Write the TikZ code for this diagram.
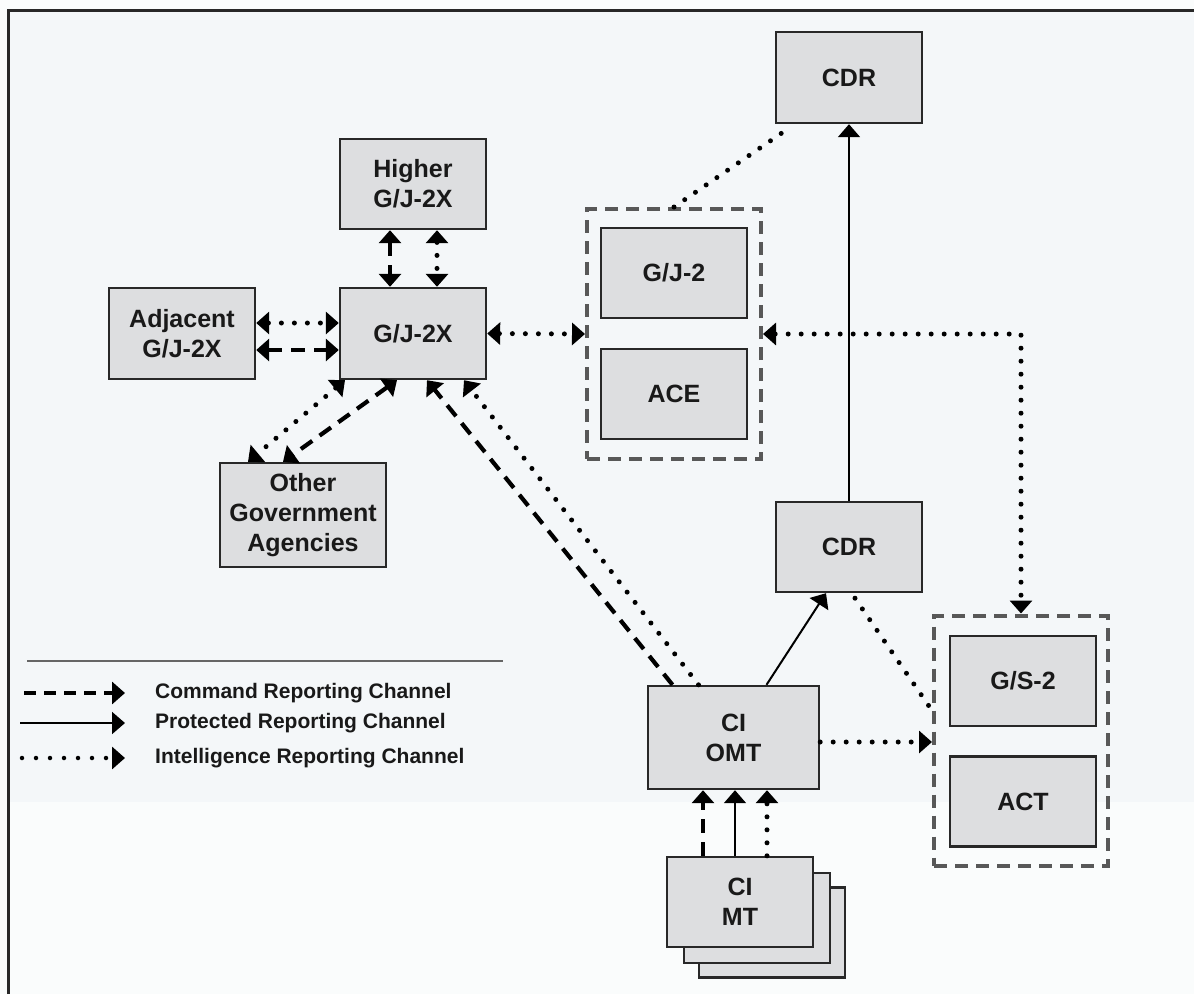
\documentclass[tikz,border=0pt]{standalone}
\usepackage{fontspec}
\setmainfont{Liberation Sans}
\usetikzlibrary{arrows.meta,calc}
\definecolor{boxfill}{RGB}{221,222,224}
\definecolor{bgtop}{RGB}{244,247,249}
\definecolor{bgbot}{RGB}{250,252,252}
\definecolor{edgec}{RGB}{40,40,40}
\definecolor{grpc}{RGB}{88,88,88}
\definecolor{txtc}{RGB}{25,25,25}
\begin{document}
\begin{tikzpicture}[x=1pt,y=-1pt,
  >={Triangle[length=13pt,width=22pt]},
  box/.style={draw=edgec, line width=2.4pt, fill=boxfill, inner sep=0pt,
    minimum width=146pt, minimum height=90pt, align=center, text=txtc,
    font=\bfseries\fontsize{25}{30}\selectfont},
  grpbox/.style={draw=grpc, line width=4pt, dash pattern=on 13pt off 8pt,
    inner sep=0pt, minimum width=174pt, minimum height=250pt},
  cmd/.style={line width=4.2pt, dash pattern=on 14pt off 9pt, draw=black},
  intel/.style={line width=5pt, line cap=round, dash pattern=on 0pt off 13pt, draw=black},
  prot/.style={line width=2pt, draw=black},
  legtext/.style={anchor=west, inner sep=0pt, text=txtc,
    font=\bfseries\fontsize{21}{25}\selectfont}
]
\useasboundingbox (0,0) rectangle (1194,994);
% background
\fill[bgbot] (0,0) rectangle (1194,994);
\fill[bgtop] (8,10) rectangle (1194,802);
\draw[edgec, line width=3pt] (8,994) -- (8,10) -- (1194,10);

% groups
\node[grpbox] (grp1) at (674,334) {};
\node[grpbox] (grp2) at (1021,740.5) {};

% boxes
\node[box] (higher) at (413,184) {Higher\\G/J-2X};
\node[box, minimum height=91pt] (gj2x) at (413,333.5) {G/J-2X};
\node[box, minimum height=91pt] (adj) at (182,333.5) {Adjacent\\G/J-2X};
\node[box, minimum width=166pt, minimum height=104pt] (oga) at (303,515) {Other\\Government\\Agencies};
\node[box, minimum height=91pt] (cdrtop) at (849,77.5) {CDR};
\node[box] (gj2) at (674,273) {G/J-2};
\node[box] (ace) at (674,394) {ACE};
\node[box] (cdrmid) at (849,547) {CDR};
\node[box, minimum width=171pt, minimum height=103pt] (cioomt) at (733.5,737.5) {CI\\OMT};
\node[box] (gs2) at (1023,681) {G/S-2};
\node[box] (act) at (1023,801.5) {ACT};
\node[box] (cimt3) at (772,932.5) {};
\node[box] (cimt2) at (757,918) {};
\node[box] (cimt1) at (740,902) {CI\\MT};

% Higher <-> G/J-2X
\draw[cmd,<->] ($(higher.south)+(-23,0)$) -- ($(gj2x.north)+(-23,0)$);
\draw[intel,<->] ($(higher.south)+(24,0)$) -- ($(gj2x.north)+(24,0)$);
% Adjacent <-> G/J-2X
\draw[intel,<->] ($(adj.east)+(0,-10.5)$) -- ($(gj2x.west)+(0,-10.5)$);
\draw[cmd,<->] ($(adj.east)+(0,16.5)$) -- ($(gj2x.west)+(0,16.5)$);
% G/J-2X <-> Other Government Agencies
\draw[intel,<->] ($(gj2x.south)+(-68,0)$) -- ($(oga.north)+(-55,0)$);
\draw[cmd,<->] ($(gj2x.south)+(-16,0)$) -- ($(oga.north)+(-20,0)$);
% G/J-2X <-> G/J-2 group
\draw[intel,<->] (gj2x.east) -- (grp1.west);
% CI OMT -> G/J-2X
\draw[cmd,->] ($(cioomt.north)+(-61,0)$) -- ($(gj2x.south)+(14,0)$);
\draw[intel,->] ($(cioomt.north)+(-35,0)$) -- ($(gj2x.south)+(51,0)$);
% G/J-2 group - CDR (top)
\draw[intel] (grp1.north) -- ($(cdrtop.south west)+(14,4)$);
% CDR (mid) -> CDR (top)
\draw[prot,->] (cdrmid.north) -- (cdrtop.south);
% CI OMT -> CDR (mid)
\draw[prot,->] ($(cioomt.north)+(33,0)$) -- ($(cdrmid.south)+(-23,0)$);
% CDR (mid) - G/S-2 group
\draw[intel] ($(cdrmid.south)+(6,5)$) -- ($(grp2.west)+(0,-30)$);
% G/J-2 group <-> G/S-2 group
\draw[intel,<->] (grp1.east) -- (grp1.east -| grp2.north) -- (grp2.north);
% CI OMT -> G/S-2 group
\coordinate (omtout) at ($(cioomt.east)+(0,4.5)$);
\draw[intel,->] (omtout) -- (omtout -| grp2.west);
% CI MT -> CI OMT
\coordinate (mta) at ($(cimt1.north)+(-37,0)$);
\coordinate (mtb) at ($(cimt1.north)+(-5,0)$);
\coordinate (mtc) at ($(cimt1.north)+(27,0)$);
\draw[cmd,->] (mta) -- (mta |- cioomt.south);
\draw[prot,->] (mtb) -- (mtb |- cioomt.south);
\draw[intel,->] (mtc) -- (mtc |- cioomt.south);

% legend
\coordinate (lgl) at (27,661);
\coordinate (lgr) at (503,661);
\draw[gray!80!black, line width=1.4pt] (lgl) -- (lgr);
\coordinate (l1a) at (24,693); \coordinate (l1b) at (125,693);
\coordinate (l2a) at (20,723); \coordinate (l2b) at (125,723);
\coordinate (l3a) at (22,758); \coordinate (l3b) at (125,758);
\draw[line width=3.5pt, dash pattern=on 12pt off 8pt, ->] (l1a) -- (l1b);
\draw[prot, ->] (l2a) -- (l2b);
\draw[line width=4.5pt, line cap=round, dash pattern=on 0pt off 14pt, ->] (l3a) -- (l3b);
\node[legtext] (lt1) at (155,693) {Command Reporting Channel};
\node[legtext] (lt2) at (155,723) {Protected Reporting Channel};
\node[legtext] (lt3) at (155,758) {Intelligence Reporting Channel};
\end{tikzpicture}
\end{document}
